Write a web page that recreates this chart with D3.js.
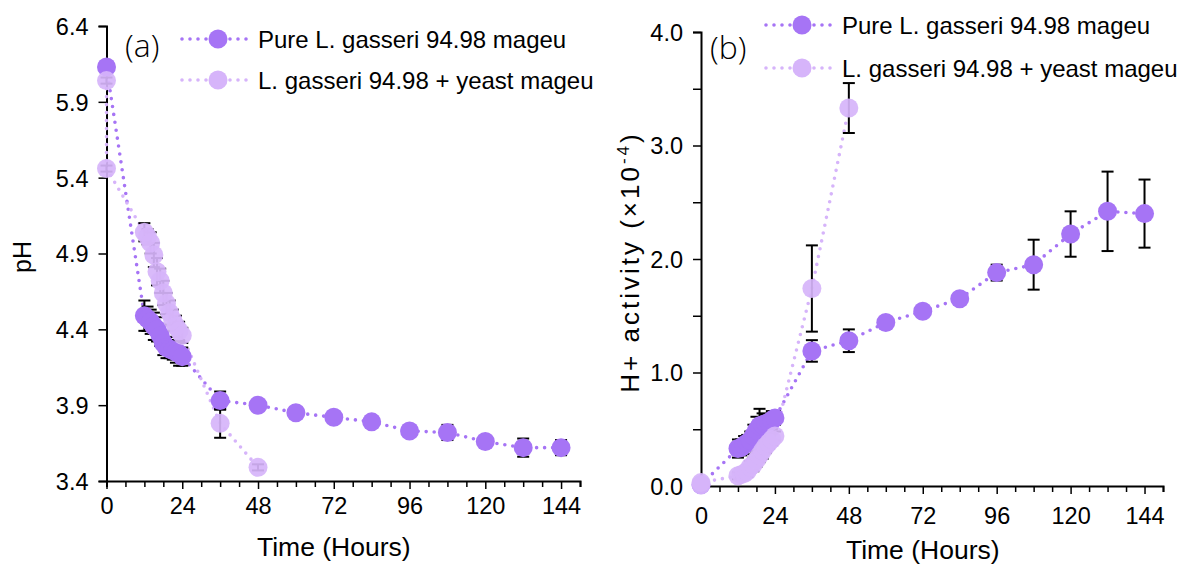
<!DOCTYPE html>
<html>
<head>
<meta charset="utf-8">
<script src="https://cdn.jsdelivr.net/npm/d3@7"></script>
<style>
  body { margin: 0; background: #fff; }
  svg text { font-family: "Liberation Sans", Arial, sans-serif; fill: #000; }
</style>
</head>
<body>
<svg id="chart" width="1179" height="565"></svg>
<script>
// Sampling times (hours)
const hoursPure  = [0, 12, 13, 14, 15, 16, 17, 18, 19, 20, 21, 22, 23, 24, 36, 48, 60, 72, 84, 96, 108, 120, 132, 144];
const hoursYeast = [0, 0, 12, 13, 14, 15, 16, 17, 18, 19, 20, 21, 22, 23, 24, 36, 48];

// pH, mean and standard deviation
const phPure     = [6.13, 4.49, 4.47, 4.45, 4.42, 4.40, 4.36, 4.31, 4.28, 4.27, 4.26, 4.25, 4.24, 4.22, 3.93, 3.90, 3.85, 3.82, 3.79, 3.73, 3.72, 3.66, 3.62, 3.62];
const phPureSd   = [0.02, 0.10, 0.08, 0.08, 0.09, 0.08, 0.07, 0.08, 0.07, 0.06, 0.06, 0.07, 0.08, 0.06, 0.06, 0.02, 0.02, 0.01, 0.02, 0.02, 0.05, 0.02, 0.06, 0.05];
const phYeast    = [6.04, 5.46, 5.04, 5.01, 4.97, 4.89, 4.78, 4.72, 4.64, 4.57, 4.51, 4.46, 4.42, 4.39, 4.36, 3.78, 3.49];
const phYeastSd  = [0.02, 0.02, 0.06, 0.05, 0.07, 0.08, 0.09, 0.08, 0.08, 0.07, 0.08, 0.07, 0.07, 0.06, 0.05, 0.095, 0.02];

// H+ activity (x10^-4), mean and standard deviation
const hPure      = [0.01, 0.33, 0.34, 0.36, 0.38, 0.40, 0.44, 0.49, 0.53, 0.54, 0.55, 0.56, 0.58, 0.60, 1.19, 1.28, 1.44, 1.54, 1.65, 1.88, 1.95, 2.22, 2.42, 2.40];
const hPureSd    = [0.01, 0.08, 0.07, 0.08, 0.07, 0.08, 0.10, 0.12, 0.15, 0.10, 0.08, 0.07, 0.08, 0.06, 0.095, 0.10, 0.02, 0.02, 0.02, 0.07, 0.22, 0.20, 0.35, 0.30];
const hYeast     = [0.01, 0.03, 0.09, 0.10, 0.11, 0.13, 0.17, 0.19, 0.23, 0.27, 0.31, 0.35, 0.38, 0.41, 0.44, 1.74, 3.33];
const hYeastSd   = [0.005, 0.005, 0.03, 0.03, 0.04, 0.05, 0.05, 0.06, 0.06, 0.06, 0.07, 0.06, 0.05, 0.05, 0.04, 0.38, 0.22];

// Axis tick labels
const xTickLabels = [0, 24, 48, 72, 96, 120, 144];
const phTicks = [3.4, 3.9, 4.4, 4.9, 5.4, 5.9, 6.4];
const hTicks  = [0.0, 1.0, 2.0, 3.0, 4.0];

const seriesNames = ["Pure L. gasseri 94.98 mageu", "L. gasseri 94.98 + yeast mageu"];
const colPure  = "#a674f5";
const colYeast = "#d6b4fa";

const svg = d3.select("#chart");

function zip(xs, ys, es) {
  return xs.map((t, i) => ({ t, v: ys[i], e: es[i] }));
}

function drawPanel(cfg) {
  const g = svg.append("g");
  const x = d3.scaleLinear().domain([0, 150]).range(cfg.xRange);
  const y = d3.scaleLinear().domain(cfg.yDomain).range(cfg.yRange);

  // x axis: minor ticks every 6 h, labels every 24 h
  const xAxis = d3.axisBottom(x)
    .tickValues(d3.range(0, 151, 6))
    .tickSizeOuter(0)
    .tickSize(6)
    .tickFormat(d => (xTickLabels.includes(d) ? d : ""));
  const gx = g.append("g").attr("transform", `translate(0,${cfg.yRange[0]})`).call(xAxis);
  gx.select(".domain").attr("stroke", "#000").attr("stroke-width", 2);
  gx.selectAll(".tick line").attr("stroke", "#000").attr("stroke-width", 1.5)
    .attr("y2", d => (d % 24 === 0 ? 8 : 6));
  gx.selectAll(".tick text").attr("font-size", 23.5).attr("dy", null).attr("y", cfg.xLabelDy);

  // y axis
  const yAxis = d3.axisLeft(y)
    .tickValues(cfg.yTickValues)
    .tickSizeOuter(0)
    .tickSize(8)
    .tickPadding(10)
    .tickFormat(d => (cfg.yLabels.some(v => Math.abs(v - d) < 1e-9) ? d3.format(".1f")(d) : ""));
  const gy = g.append("g").attr("transform", `translate(${cfg.xRange[0]},0)`).call(yAxis);
  gy.select(".domain").attr("stroke", "#000").attr("stroke-width", 2);
  gy.selectAll(".tick line").attr("stroke", "#000").attr("stroke-width", 1.5);
  gy.selectAll(".tick text").attr("font-size", 23.5).attr("dy", "0.36em");

  const line = d3.line().x(d => x(d.t)).y(d => y(d.v));

  const sets = [
    { data: cfg.pure, col: colPure, op: 1 },
    { data: cfg.yeast, col: colYeast, op: 0.92 }
  ];

  sets.forEach(s => {
    g.append("path").datum(s.data).attr("d", line)
      .attr("fill", "none").attr("stroke", s.col).attr("stroke-width", 3.6)
      .attr("stroke-linecap", "round").attr("stroke-dasharray", "0 8");
  });

  sets.forEach(s => {
    const eb = g.append("g").attr("stroke", "#000").attr("stroke-width", 2);
    s.data.forEach(d => {
      if (d.e <= 0) return;
      const cx = x(d.t), y0 = y(d.v - d.e), y1 = y(d.v + d.e);
      eb.append("line").attr("x1", cx).attr("x2", cx).attr("y1", y0).attr("y2", y1);
      eb.append("line").attr("x1", cx - 6).attr("x2", cx + 6).attr("y1", y0).attr("y2", y0);
      eb.append("line").attr("x1", cx - 6).attr("x2", cx + 6).attr("y1", y1).attr("y2", y1);
    });
  });

  sets.forEach(s => {
    g.append("g").selectAll("circle").data(s.data).join("circle")
      .attr("cx", d => x(d.t)).attr("cy", d => y(d.v)).attr("r", 9.5)
      .attr("fill", s.col).attr("fill-opacity", s.op);
  });

  // axis titles
  g.append("text").attr("x", (cfg.xRange[0] + x(144)) / 2 + cfg.xTitleShift).attr("y", cfg.xTitleY)
    .attr("text-anchor", "middle").attr("font-size", 26.5).text("Time (Hours)");
  const yt = g.append("text").attr("transform", `translate(${cfg.yTitleX},${cfg.yTitleY}) rotate(-90)`)
    .attr("text-anchor", "middle").attr("font-size", 26);
  cfg.yTitle(yt);

  // panel letter in a light face
  g.append("text").attr("x", cfg.letterX).attr("y", cfg.letterY)
    .style("font-family", "'Open Sans', Lato, sans-serif").style("font-weight", 300)
    .attr("font-size", 32)
    .text(cfg.letter);

  // legend
  const lg = g.append("g");
  [[colPure, seriesNames[0], cfg.legendY[0]], [colYeast, seriesNames[1], cfg.legendY[1]]].forEach(([c, name, ly]) => {
    lg.append("line").attr("x1", cfg.legendX).attr("x2", cfg.legendX + 70).attr("y1", ly).attr("y2", ly)
      .attr("stroke", c).attr("stroke-width", 3.6).attr("stroke-linecap", "round").attr("stroke-dasharray", "0 8");
    lg.append("circle").attr("cx", cfg.legendX + 36).attr("cy", ly).attr("r", 9.5).attr("fill", c);
    lg.append("text").attr("x", cfg.legendX + 76).attr("y", ly).attr("dy", "0.36em")
      .attr("font-size", 24).text(name);
  });
}

drawPanel({
  xRange: [106.5, 580],
  yDomain: [3.4, 6.4], yRange: [481, 26],
  yTickValues: phTicks, yLabels: phTicks,
  xLabelDy: 33, xTitleY: 556, xTitleShift: 0,
  yTitleX: 31, yTitleY: 257,
  yTitle: t => t.attr("font-size", 25).text("pH"),
  letter: "(a)", letterX: 125, letterY: 57,
  legendX: 182, legendY: [39, 80],
  pure: zip(hoursPure, phPure, phPureSd),
  yeast: zip(hoursYeast, phYeast, phYeastSd)
});

drawPanel({
  xRange: [701, 1163],
  yDomain: [0, 4], yRange: [486, 32],
  yTickValues: d3.range(0, 4.01, 0.5), yLabels: hTicks,
  xLabelDy: 38, xTitleY: 559, xTitleShift: 0,
  yTitleX: 639, yTitleY: 262,
  yTitle: t => {
    t.attr("letter-spacing", 3);
    t.append("tspan").text("H+ activity (\u00d710");
    t.append("tspan").attr("font-size", 17).attr("dy", -10).text("-4");
    t.append("tspan").attr("dy", 10).text(")");
  },
  letter: "(b)", letterX: 710, letterY: 59,
  legendX: 766, legendY: [25, 68],
  pure: zip(hoursPure, hPure, hPureSd),
  yeast: zip(hoursYeast, hYeast, hYeastSd)
});
</script>
</body>
</html>
